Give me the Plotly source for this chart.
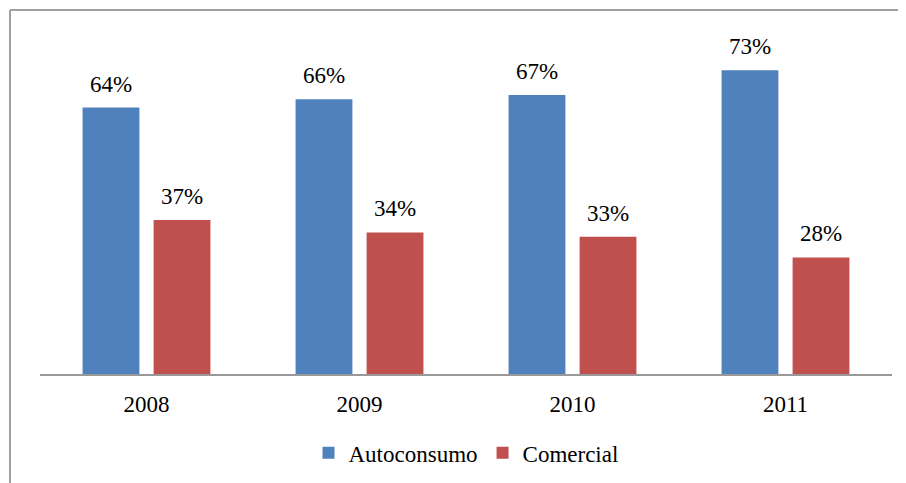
import plotly.graph_objects as go

years = ["2008", "2009", "2010", "2011"]
autoconsumo = [64, 66, 67, 73]
comercial = [37, 34, 33, 28]
series_names = ["Autoconsumo", "Comercial"]
colors = ["#4F81BD", "#C0504D"]

# page body has an 8px offset; margins below are in figure coordinates
W, H = 906, 483
ml, mr, mt, mb = 32, 22, 33, 117
plot_w = W - ml - mr
plot_h = H - mt - mb
bargap = 0.333
bargroupgap = 0.2

fig = go.Figure()
for name, vals, col in zip(series_names, [autoconsumo, comercial], colors):
    fig.add_trace(go.Bar(x=years, y=vals, name=name, marker=dict(color=col, line=dict(width=0))))

font_family = "Liberation Serif, Times New Roman, serif"
annotations = []
cat_w = plot_w / len(years)
for i, vals in enumerate([autoconsumo, comercial]):
    shift = (-1 if i == 0 else 1) * cat_w * (1 - bargap) / 4
    for idx, v in enumerate(vals):
        annotations.append(dict(x=idx, y=v, xref="x", yref="y", text=f"{v}%", showarrow=False,
                                yanchor="bottom", xshift=shift, yshift=9,
                                font=dict(family=font_family, size=23, color="#000000")))

bx = (2 - ml) / plot_w
by = (H - mb - 2) / plot_h
fig.update_layout(
    width=W, height=H,
    margin=dict(l=ml, r=mr, t=mt, b=mb),
    paper_bgcolor="white", plot_bgcolor="white",
    barmode="group", bargap=bargap, bargroupgap=bargroupgap,
    font=dict(family=font_family, size=23, color="#000000"),
    xaxis=dict(type="category", showline=True, linecolor="#999999", linewidth=2, showgrid=False,
               ticks="outside", ticklen=8, tickcolor="rgba(0,0,0,0)", range=[-0.5, 3.5]),
    yaxis=dict(range=[0, 80], visible=False, showgrid=False),
    legend=dict(orientation="h", x=0.5, xanchor="center", y=-0.237, yanchor="middle"),
    annotations=annotations,
    shapes=[
        dict(type="line", xref="paper", yref="paper", x0=bx, x1=bx, y0=-0.6, y1=by,
             line=dict(color="#A0A0A0", width=2)),
        dict(type="line", xref="paper", yref="paper", x0=bx, x1=1.1, y0=by, y1=by,
             line=dict(color="#A0A0A0", width=2)),
    ],
)

fig.write_html("out.html")
